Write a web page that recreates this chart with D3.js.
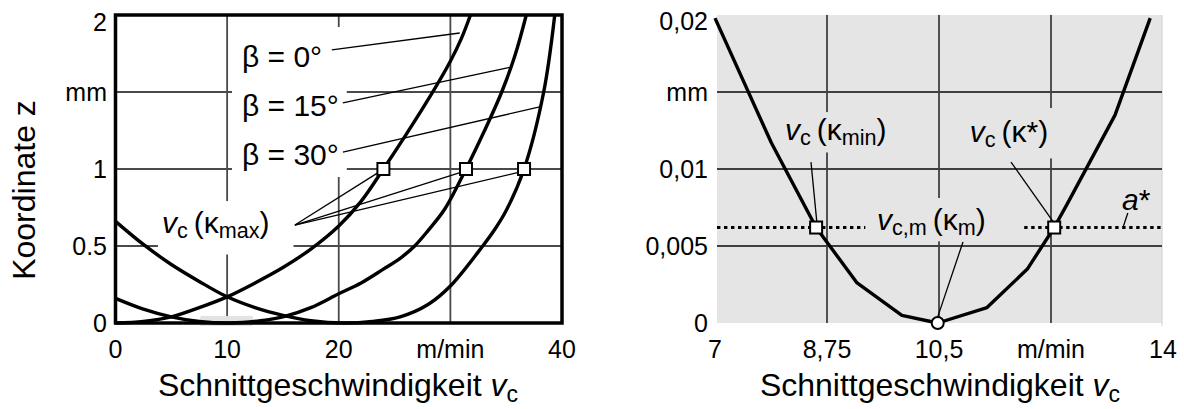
<!DOCTYPE html>
<html><head><meta charset="utf-8">
<script src="https://cdn.jsdelivr.net/npm/d3@7"></script>
<style>
body{margin:0;background:#fff}
svg{display:block}
text{font-family:"Liberation Sans",Arial,Helvetica,sans-serif;fill:#000}
</style>
</head><body>
<svg id="c" width="1184" height="409"></svg>
<script>
// ---------------- data ----------------
const leftXTicks = [0, 10, 20, 30, 40];
const leftXLabels = ["0", "10", "20", "m/min", "40"];
const leftYTicks = [0, 0.5, 1, 1.5, 2];
const leftYLabels = ["0", "0.5", "1", "mm", "2"];
const leftGridX = [10, 20, 30];
const leftGridY = [0.5, 1, 1.5];

// beta = 0°
const beta0V = [0, 2.5, 5, 7.5, 10, 12.5, 15, 17.5, 20, 22, 24, 26, 28, 30, 31, 31.8];
const beta0Z = [0, 0.01, 0.04, 0.1, 0.17, 0.26, 0.36, 0.48, 0.63, 0.79, 1.0, 1.22, 1.45, 1.7, 1.85, 2.0];
// beta = 15°
const beta15V = [0, 2.5, 5, 7.5, 10.3, 13, 15, 17.5, 20, 22, 24, 25.5, 26.8, 28, 29.5, 31.4, 33, 34.6, 35.8, 36.8];
const beta15Z = [0.16, 0.09, 0.04, 0.01, 0, 0.015, 0.04, 0.1, 0.19, 0.26, 0.35, 0.42, 0.5, 0.6, 0.74, 1.0, 1.24, 1.5, 1.74, 2.0];
// beta = 30°
const beta30V = [0, 2.5, 5, 7.5, 10, 12.5, 15, 17.5, 20.5, 23, 25.5, 28, 30, 32.9, 34, 35, 36.6, 38.36, 39.35];
const beta30Z = [0.66, 0.51, 0.38, 0.27, 0.17, 0.1, 0.05, 0.015, 0, 0.01, 0.04, 0.12, 0.24, 0.5, 0.61, 0.73, 1.0, 1.5, 2.0];

const kappaMaxV = [24.0, 31.4, 36.6];
const kappaMaxZ = [1, 1, 1];
const betaLabels = ["β = 0°", "β = 15°", "β = 30°"];

const rightXTicks = [7, 8.75, 10.5, 12.25, 14];
const rightXLabels = ["7", "8,75", "10,5", "m/min", "14"];
const rightYTicks = [0, 0.005, 0.01, 0.015, 0.02];
const rightYLabels = ["0", "0,005", "0,01", "mm", "0,02"];
const rightGridX = [8.75, 10.5, 12.25];
const rightGridY = [0.005, 0.01, 0.015];

const distV = [7, 7.88, 8.58, 9.22, 9.92, 10.48, 11.25, 11.88, 12.3, 12.5, 13.25, 13.8];
const distA = [0.0198, 0.0117, 0.0062, 0.0026, 0.0005, 0, 0.001, 0.0035, 0.0062, 0.0077, 0.0135, 0.0198];
const aStar = 0.0062;
const aStarSpans = [[7, 9.38], [11.8, 14]];
const kappaMinV = 8.58, kappaStarV = 12.3, kappaMV = 10.48, kappaMA = 0;

// ---------------- layout ----------------
const svg = d3.select("#c");
const FS_TICK = 25, FS_TITLE = 32, FS_LBL = 30;

const xL = d3.scaleLinear().domain([0, 40]).range([115.5, 562]);
const yL = d3.scaleLinear().domain([0, 2]).range([323, 15]);
const xR = d3.scaleLinear().domain([7, 14]).range([715, 1163]);
const yR = d3.scaleLinear().domain([0, 0.02]).range([323, 15]);

function rich(sel, parts, fs) {
  let shift = 0;
  parts.forEach(p => {
    const t = sel.append("tspan").text(p.t);
    const target = p.sub ? fs * 0.18 : 0;
    t.attr("dy", target - shift);
    shift = target;
    t.attr("font-size", p.sub ? fs * 0.72 : fs);
    if (p.i) t.attr("font-style", "italic");
  });
}
function vcParts(sub, kSub, kSup) {
  const a = [{ t: "v", i: true }, { t: sub, sub: true }, { t: "\u2009(" }, { t: "κ" }];
  if (kSub) a.push({ t: kSub, sub: true });
  if (kSup) a.push({ t: kSup });
  a.push({ t: ")" });
  return a;
}
function boxBehind(layer, textSel, fill, pad) {
  const b = textSel.node().getBBox();
  layer.append("rect")
    .attr("x", b.x - pad[3]).attr("y", b.y - pad[0])
    .attr("width", b.width + pad[1] + pad[3]).attr("height", b.height + pad[0] + pad[2])
    .attr("fill", fill);
}

// ================= LEFT CHART =================
const L = svg.append("g");
const lGrid = L.append("g"), lBox = L.append("g"), lMarks = L.append("g"), lText = L.append("g");

lGrid.selectAll("line.gx").data(leftGridX).join("line")
  .attr("x1", d => xL(d)).attr("x2", d => xL(d)).attr("y1", yL(2)).attr("y2", yL(0))
  .attr("stroke", "#4a4a4a").attr("stroke-width", 1.8);
lGrid.selectAll("line.gy").data(leftGridY).join("line")
  .attr("x1", xL(0)).attr("x2", xL(40)).attr("y1", d => yL(d)).attr("y2", d => yL(d))
  .attr("stroke", "#4a4a4a").attr("stroke-width", 1.8);

// light gray patch (scan artifact in the reference)
lBox.append("rect").attr("x", xL(7.6)).attr("width", xL(12.3) - xL(7.6))
  .attr("y", yL(0.045)).attr("height", yL(0) - yL(0.045) + 3).attr("fill", "#e2e2e2");

// beta labels
const betaPos = [[11.33, 1.662], [11.33, 1.344], [11.33, 1.026]];
const betaG = lText.append("g");
betaLabels.forEach((s, i) => {
  betaG.append("text").attr("x", xL(betaPos[i][0])).attr("y", yL(betaPos[i][1]))
    .attr("font-size", FS_LBL).text(s);
});
boxBehind(lBox, betaG, "#fff", [13, 8, 6, 10]);

const kmaxText = lText.append("text").attr("x", xL(4.16)).attr("y", yL(0.584));
rich(kmaxText, vcParts("c", "max"), FS_LBL);
boxBehind(lBox, kmaxText, "#fff", [5, 24, 11, 4]);

// curves
const lineL = d3.line().x(d => xL(d[0])).y(d => yL(d[1])).curve(d3.curveCatmullRom.alpha(0.5));
[[beta0V, beta0Z], [beta15V, beta15Z], [beta30V, beta30Z]].forEach(([v, z]) => {
  lMarks.append("path").datum(v.map((x, i) => [x, z[i]])).attr("d", lineL)
    .attr("fill", "none").attr("stroke", "#000").attr("stroke-width", 3.4);
});

// pointer lines (data coords)
const betaPointers = [[[19.38, 1.773], [30.84, 1.883]], [[20.37, 1.429], [35.32, 1.66]], [[20.37, 1.11], [38.0, 1.403]]];
const kmaxFrom = [16.07, 0.636];
const lPtr = betaPointers.concat(kappaMaxV.map((v, i) => [kmaxFrom, [v - 0.4, kappaMaxZ[i] - 0.02]]));
lMarks.selectAll("line.ptr").data(lPtr).join("line")
  .attr("x1", d => xL(d[0][0])).attr("y1", d => yL(d[0][1]))
  .attr("x2", d => xL(d[1][0])).attr("y2", d => yL(d[1][1]))
  .attr("stroke", "#000").attr("stroke-width", 1.3);

// square markers
lMarks.selectAll("rect.sq").data(kappaMaxV).join("rect")
  .attr("x", d => xL(d) - 6).attr("y", (d, i) => yL(kappaMaxZ[i]) - 6)
  .attr("width", 12).attr("height", 12)
  .attr("fill", "#fff").attr("stroke", "#000").attr("stroke-width", 2);

// frame
L.append("rect").attr("x", xL(0)).attr("y", yL(2)).attr("width", xL(40) - xL(0)).attr("height", yL(0) - yL(2))
  .attr("fill", "none").attr("stroke", "#000").attr("stroke-width", 3.5);

// tick labels
L.selectAll("text.yl").data(leftYTicks).join("text")
  .attr("x", 107).attr("text-anchor", "end").attr("font-size", FS_TICK)
  .attr("y", d => Math.min(Math.max(yL(d), yL(2) + 7), yL(0) + 5)).attr("dy", "0.36em")
  .text((d, i) => leftYLabels[i]);
L.selectAll("text.xl").data(leftXTicks).join("text")
  .attr("x", d => xL(d)).attr("y", 358).attr("text-anchor", "middle").attr("font-size", FS_TICK)
  .text((d, i) => leftXLabels[i]);

// axis titles
L.append("text").attr("transform", "translate(35,190) rotate(-90)").attr("text-anchor", "middle")
  .attr("font-size", FS_TITLE).text("Koordinate z");
const tl = L.append("text").attr("x", 338).attr("y", 396).attr("text-anchor", "middle");
rich(tl, [{ t: "Schnittgeschwindigkeit " }, { t: "v", i: true }, { t: "c", sub: true }], FS_TITLE);

// ================= RIGHT CHART =================
const R = svg.append("g");
R.append("rect").attr("x", xR(7) + 2).attr("y", yR(0.02)).attr("width", xR(14) - xR(7) - 3).attr("height", yR(0) - yR(0.02))
  .attr("fill", "#e5e5e5");
R.append("line").attr("x1", xR(14) - 1).attr("x2", xR(14) - 1).attr("y1", yR(0.02)).attr("y2", yR(0) + 3)
  .attr("stroke", "#cfcfcf").attr("stroke-width", 1);
const rGrid = R.append("g"), rBox = R.append("g"), rMarks = R.append("g"), rText = R.append("g");

rGrid.selectAll("line.gx").data(rightGridX).join("line")
  .attr("x1", d => xR(d)).attr("x2", d => xR(d)).attr("y1", yR(0.02)).attr("y2", yR(0))
  .attr("stroke", "#404040").attr("stroke-width", 1.8);
rGrid.selectAll("line.gy").data(rightGridY).join("line")
  .attr("x1", xR(7) + 2).attr("x2", xR(14) - 1).attr("y1", d => yR(d)).attr("y2", d => yR(d))
  .attr("stroke", "#404040").attr("stroke-width", 1.8);

const kminT = rText.append("text").attr("x", xR(8.094)).attr("y", yR(0.01188));
rich(kminT, vcParts("c", "min"), FS_LBL);
boxBehind(rBox, kminT, "#e5e5e5", [1, 4, 2, 4]);
const kstT = rText.append("text").attr("x", xR(10.98)).attr("y", yR(0.01175));
rich(kstT, vcParts("c", null, "*"), FS_LBL);
boxBehind(rBox, kstT, "#e5e5e5", [7, 5, 6, 4]);
const kmT = rText.append("text").attr("x", xR(9.53)).attr("y", yR(0.00604));
rich(kmT, vcParts("c,m", "m"), FS_LBL);
boxBehind(rBox, kmT, "#e5e5e5", [5, 6, 1, 4]);
const aT = rText.append("text").attr("x", xR(13.36)).attr("y", yR(0.00734)).attr("font-size", FS_LBL);
aT.append("tspan").attr("font-style", "italic").text("a");
aT.append("tspan").text("*");

// a* dotted
rMarks.selectAll("line.astar").data(aStarSpans).join("line")
  .attr("x1", d => xR(d[0]) + 2).attr("x2", d => xR(d[1]) - 2).attr("y1", yR(aStar)).attr("y2", yR(aStar))
  .attr("stroke", "#000").attr("stroke-width", 3.2).attr("stroke-dasharray", "3.4,3.6");

// polyline
const lineR = d3.line().x(d => xR(d[0])).y(d => yR(d[1]));
rMarks.append("path").datum(distV.map((v, i) => [v, distA[i]])).attr("d", lineR)
  .attr("fill", "none").attr("stroke", "#000").attr("stroke-width", 3.4).attr("stroke-linejoin", "round");

// pointers
const rPtr = [
  [[8.5, 0.01045], [8.59, 0.0066]],
  [[11.625, 0.01045], [12.28, 0.0066]],
  [[10.875, 0.00526], [10.48, 0.0004]],
  [[13.45, 0.00714], [13.375, 0.0062]]
];
rMarks.selectAll("line.ptr").data(rPtr).join("line")
  .attr("x1", d => xR(d[0][0])).attr("y1", d => yR(d[0][1]))
  .attr("x2", d => xR(d[1][0])).attr("y2", d => yR(d[1][1]))
  .attr("stroke", "#000").attr("stroke-width", 1.3);

rMarks.selectAll("rect.sq").data([kappaMinV, kappaStarV]).join("rect")
  .attr("x", d => xR(d) - 6).attr("y", yR(aStar) - 6).attr("width", 12).attr("height", 12)
  .attr("fill", "#fff").attr("stroke", "#000").attr("stroke-width", 2);
rMarks.append("circle").attr("cx", xR(kappaMV)).attr("cy", yR(kappaMA)).attr("r", 6)
  .attr("fill", "#fff").attr("stroke", "#000").attr("stroke-width", 2);

R.selectAll("text.yl").data(rightYTicks).join("text")
  .attr("x", 708).attr("text-anchor", "end").attr("font-size", FS_TICK)
  .attr("y", d => Math.min(Math.max(yR(d), yR(0.02) + 6), yR(0) + 2)).attr("dy", "0.36em")
  .text((d, i) => rightYLabels[i]);
R.selectAll("text.xl").data(rightXTicks).join("text")
  .attr("x", d => xR(d)).attr("y", 358).attr("text-anchor", "middle").attr("font-size", FS_TICK)
  .text((d, i) => rightXLabels[i]);
const tr = R.append("text").attr("x", 940).attr("y", 396).attr("text-anchor", "middle");
rich(tr, [{ t: "Schnittgeschwindigkeit " }, { t: "v", i: true }, { t: "c", sub: true }], FS_TITLE);
</script>
</body></html>
